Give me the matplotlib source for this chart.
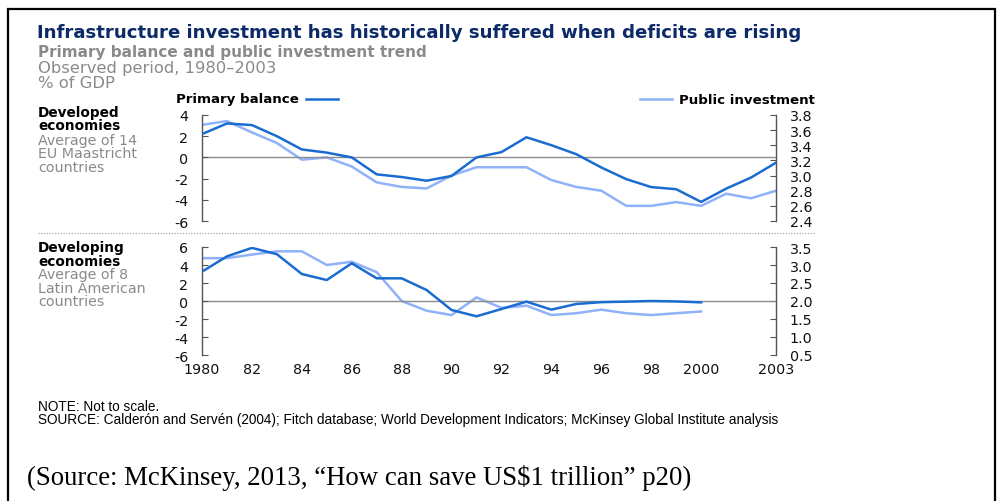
import matplotlib.pyplot as plt
from matplotlib.patches import Rectangle
from matplotlib.lines import Line2D

plt.rcParams['font.family'] = ['DejaVu Sans']

years = list(range(1980, 2004))
years_dev = list(range(1980, 2001))

# Developed economies (average of 14 EU Maastricht countries)
dev_primary = [2.2, 3.2, 3.05, 2.0, 0.75, 0.45, 0.0, -1.6, -1.85, -2.2, -1.75, 0.0,
               0.5, 1.9, 1.15, 0.3, -0.95, -2.05, -2.8, -3.0, -4.2, -2.95, -1.9, -0.5]
dev_invest = [3.67, 3.72, 3.57, 3.43, 3.21, 3.24, 3.12, 2.91, 2.85, 2.83, 3.0, 3.11,
              3.11, 3.11, 2.94, 2.85, 2.80, 2.60, 2.60, 2.65, 2.60, 2.76, 2.70, 2.80]

# Developing economies (average of 8 Latin American countries), 1980-2000
lat_primary = [3.26, 4.96, 5.9, 5.2, 3.0, 2.33, 4.19, 2.52, 2.52, 1.22, -1.0, -1.7,
               -0.89, -0.07, -0.96, -0.33, -0.13, -0.07, 0.0, -0.05, -0.15]
lat_invest = [3.19, 3.19, 3.29, 3.38, 3.38, 3.0, 3.09, 2.8, 2.0, 1.73, 1.61, 2.1,
              1.81, 1.87, 1.61, 1.66, 1.76, 1.66, 1.61, 1.66, 1.71]

left_ticks_top = [4, 2, 0, -2, -4, -6]
right_ticks_top = [3.8, 3.6, 3.4, 3.2, 3.0, 2.8, 2.6, 2.4]
left_ticks_bot = [6, 4, 2, 0, -2, -4, -6]
right_ticks_bot = [3.5, 3.0, 2.5, 2.0, 1.5, 1.0, 0.5]
xticks = [1980, 1982, 1984, 1986, 1988, 1990, 1992, 1994, 1996, 1998, 2000, 2003]
xlabels = ["1980", "82", "84", "86", "88", "90", "92", "94", "96", "98", "2000", "2003"]

DARK = "#1a6cd0"
LIGHT = "#8fb2f8"
GREY = "#8a8a8a"
TICK = "#111111"

W, H = 1008, 502
fig = plt.figure(figsize=(W / 100, H / 100), dpi=100)


def fx(px):
    return px / W


def fy(py):
    return 1 - py / H


def panel(top, bottom, lticks, rticks, left_data, right_data, xs, show_x):
    ax = fig.add_axes([fx(202), fy(bottom), fx(776 - 202), (bottom - top) / H])
    ax2 = ax.twinx()
    ax.plot(xs, left_data, color=DARK, lw=1.8, zorder=3)
    ax2.plot(xs, right_data, color=LIGHT, lw=1.8, zorder=2)
    ax.set_zorder(ax2.get_zorder() + 1)
    ax.patch.set_visible(False)
    ax.axhline(0, color="#8c8c8c", lw=1.0, zorder=1)
    ax.set_xlim(1980, 2003)
    ax.set_ylim(min(lticks), max(lticks))
    ax2.set_ylim(min(rticks), max(rticks))
    ax.set_yticks(lticks)
    ax.set_yticklabels([str(t) for t in lticks])
    ax2.set_yticks(rticks)
    ax2.set_yticklabels([f"{t:.1f}" for t in rticks])
    for a in (ax, ax2):
        for s in ("top", "bottom"):
            a.spines[s].set_visible(False)
        a.spines["left"].set_visible(a is ax)
        a.spines["right"].set_visible(a is ax2)
        for s in ("left", "right"):
            a.spines[s].set_color("#555555")
            a.spines[s].set_linewidth(1.0)
    ax.tick_params(axis="y", direction="in", length=4, color="#555555",
                   labelsize=10.3, labelcolor=TICK, pad=10)
    ax2.tick_params(axis="y", direction="in", length=4, color="#555555",
                    labelsize=10.3, labelcolor=TICK, pad=10)
    if show_x:
        ax.set_xticks(xticks)
        ax.set_xticklabels(xlabels, fontsize=10.3, color=TICK)
        ax.tick_params(axis="x", length=0, pad=5)
    else:
        ax.set_xticks([])
    return ax


panel(116, 222, left_ticks_top, right_ticks_top, dev_primary, dev_invest, years, False)
panel(248, 356, left_ticks_bot, right_ticks_bot, lat_primary, lat_invest, years_dev, True)

# border frame
fig.patches.append(Rectangle((fx(8), fy(510)), fx(995 - 8), (510 - 10) / H,
                             transform=fig.transFigure, fill=False,
                             edgecolor="black", lw=1.6))

# titles
fig.text(fx(37), fy(33), "Infrastructure investment has historically suffered when deficits are rising",
         fontsize=13.05, fontweight="bold", color="#0c2a68", va="center")
fig.text(fx(38), fy(52), "Primary balance and public investment trend",
         fontsize=11.0, fontweight="bold", color=GREY, va="center")
fig.text(fx(38), fy(68), "Observed period, 1980\u20132003", fontsize=11.8, color=GREY, va="center")
fig.text(fx(38), fy(84), "% of GDP", fontsize=11.8, color=GREY, va="center")

# legend
fig.text(fx(176), fy(100), "Primary balance", fontsize=9.65, fontweight="bold", color="black", va="center")
fig.lines.append(Line2D([fx(306), fx(338)], [fy(100), fy(100)], color=DARK, lw=1.8,
                        transform=fig.transFigure))
fig.text(fx(815), fy(100), "Public investment", fontsize=9.65, fontweight="bold", color="black",
         va="center", ha="right")
fig.lines.append(Line2D([fx(640), fx(672)], [fy(100), fy(100)], color=LIGHT, lw=1.8,
                        transform=fig.transFigure))

# side labels, one line at a time
side = [
    ("Developed", 113, True), ("economies", 126, True),
    ("Average of 14", 141, False), ("EU Maastricht", 154, False), ("countries", 168, False),
    ("Developing", 248, True), ("economies", 262, True),
    ("Average of 8", 275, False), ("Latin American", 289, False), ("countries", 302, False),
]
for txt, py, bold in side:
    fig.text(fx(38), fy(py), txt, fontsize=9.85 if bold else 10.3,
             fontweight="bold" if bold else "normal",
             color="black" if bold else GREY, va="center")

# dotted separator
fig.lines.append(Line2D([fx(38), fx(815)], [fy(234), fy(234)], color="#999999", lw=0.8,
                        linestyle=(0, (1, 1.5)), transform=fig.transFigure))

# notes
fig.text(fx(38), fy(407), "NOTE: Not to scale.", fontsize=9.85, family="Liberation Sans",
         color="black", va="center")
fig.text(fx(38), fy(420), "SOURCE: Calder\u00f3n and Serv\u00e9n (2004); Fitch database; World Development "
         "Indicators; McKinsey Global Institute analysis", fontsize=9.85, family="Liberation Sans",
         color="black", va="center")

fig.text(fx(27), fy(478), "(Source: McKinsey, 2013, \u201cHow can save US$1 trillion\u201d p20)",
         fontsize=19.3, family="Liberation Serif", color="black", va="center")

fig.savefig("out.png", dpi=100)
